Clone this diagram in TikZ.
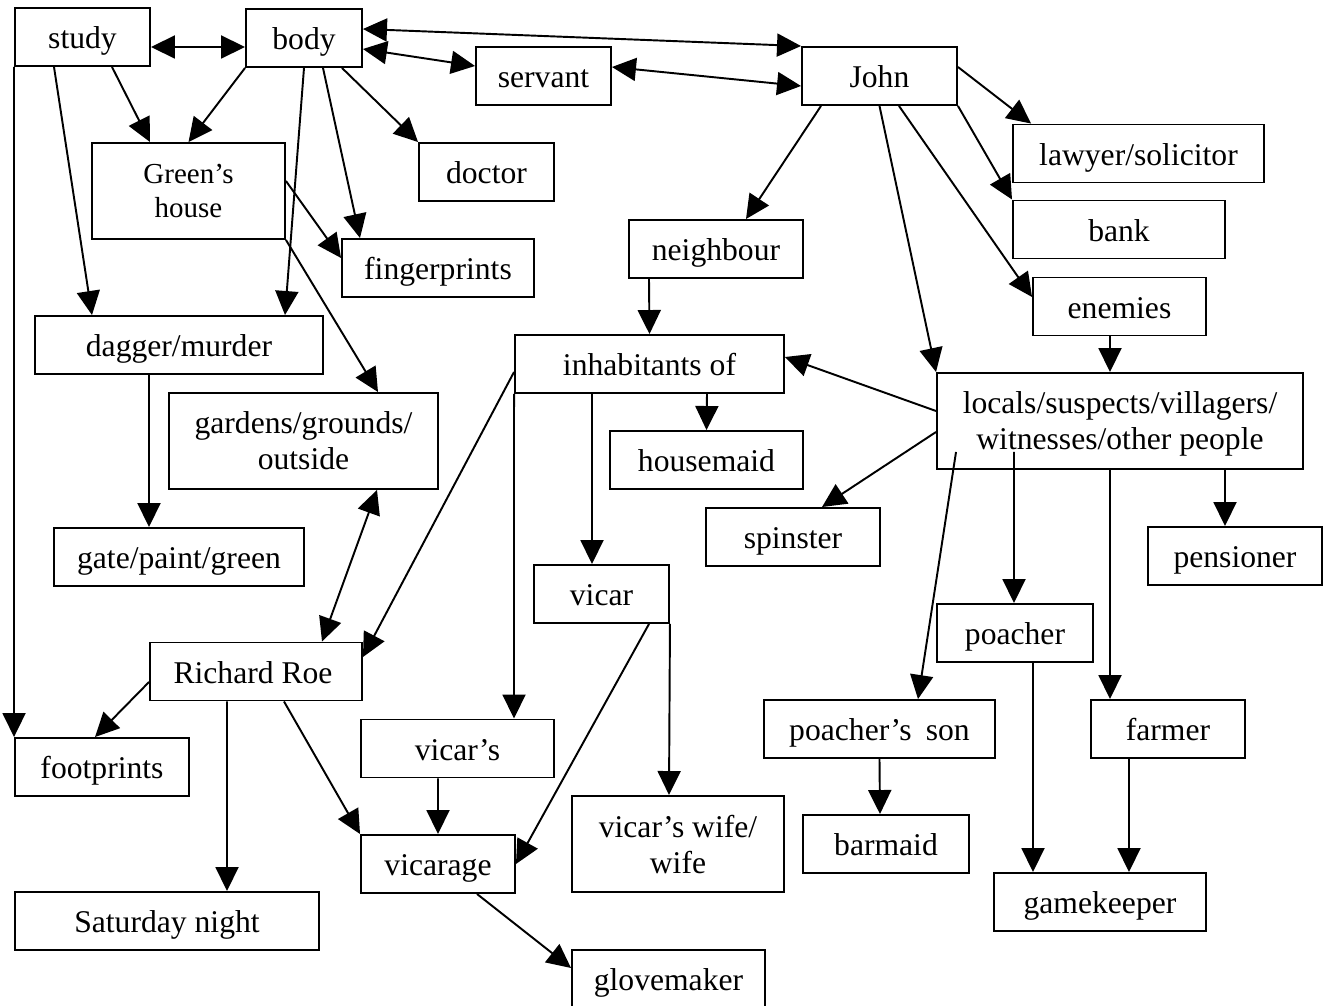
\documentclass[tikz,border=0pt]{standalone}
\usepackage{fontspec}
\setmainfont{Liberation Serif}
\usetikzlibrary{arrows.meta}

\begin{document}
\begin{tikzpicture}[
    x=0.2mm, y=-0.2mm,
    block/.style={rectangle, draw, line width=1.1pt, minimum height=11.6mm, inner sep=0pt, align=center, text height=13.6pt, text depth=0pt, font=\fontsize{18}{20.5}\selectfont},
    tallblock/.style={block, minimum height=19.2mm, text height=, text depth=0pt},
    arr/.style={-{Triangle[length=4.8mm, width=4.6mm]}, line width=1.1pt},
    darr/.style={{Triangle[length=4.8mm, width=4.6mm]}-{Triangle[length=4.8mm, width=4.6mm]}, line width=1.1pt},
]
\useasboundingbox (0,0) rectangle (1323,1006);

% ---- Top row ----
\node[block, minimum width=27mm] (study) at (82.5,37) {study};
\node[block, minimum width=23.2mm] (body) at (304,38) {body};
\node[block, minimum width=27mm] (servant) at (543.5,76) {servant};
\node[block, minimum width=31mm] (john) at (879.5,76) {John};

% ---- Left side ----
\node[tallblock, minimum width=38.6mm, font=\fontsize{16.5}{19}\selectfont] (greens) at (188.5,191) {Green’s\\house};
\node[block, minimum width=27mm] (doctor) at (486.5,172) {doctor};
\node[block, minimum width=38.4mm] (fingerprints) at (438,268) {fingerprints};
\node[block, minimum width=57.6mm] (dagger) at (179,345) {dagger/murder};
\node[tallblock, minimum width=53.8mm] (gardens) at (303.5,441) {gardens/grounds/\\outside};
\node[block, minimum width=50mm] (gate) at (179,557) {gate/paint/green};
\node[block, minimum width=42.4mm] (richard) at (256,671.5) {Richard Roe\hspace{1.2mm}};
\node[block, minimum width=34.8mm] (footprints) at (102,767) {footprints};
\node[block, minimum width=60.8mm] (saturday) at (167,921) {Saturday night};

% ---- Middle ----
\node[block, minimum width=34.8mm] (neighbour) at (716,249) {neighbour};
\node[block, minimum width=53.8mm] (inhabitants) at (649.5,364) {inhabitants of};
\node[block, minimum width=38.6mm] (housemaid) at (706.5,460) {housemaid};
\node[block, minimum width=34.8mm] (spinster) at (793,537) {spinster};
\node[block, minimum width=27mm] (vicar) at (601.5,594) {vicar};
\node[block, minimum width=38.6mm] (vicars) at (457.5,748.5) {vicar’s};
\node[tallblock, minimum width=42.4mm] (wife) at (678,844) {vicar’s wife/\\wife};
\node[block, minimum width=30.8mm] (vicarage) at (438,864) {vicarage};
\node[block, minimum width=38.6mm] (glovemaker) at (668.5,979) {glovemaker};

% ---- Right side ----
\node[block, minimum width=50.2mm] (lawyer) at (1138.5,153.5) {lawyer/solicitor};
\node[block, minimum width=42.4mm] (bank) at (1119,229.5) {bank};
\node[block, minimum width=34.6mm] (enemies) at (1119.5,306.5) {enemies};
\node[tallblock, minimum width=73.2mm] (locals) at (1120,421) {locals/suspects/villagers/\\witnesses/other people};
\node[block, minimum width=34.8mm] (pensioner) at (1235,556) {pensioner};
\node[block, minimum width=31.2mm] (poacher) at (1015,633) {poacher};
\node[block, minimum width=46.2mm] (psson) at (879.5,729) {poacher’s\hspace{0.45em}son};
\node[block, minimum width=30.8mm] (farmer) at (1168,729) {farmer};
\node[block, minimum width=33.2mm] (barmaid) at (886,844) {barmaid};
\node[block, minimum width=42.4mm] (gamekeeper) at (1100,902) {gamekeeper};

% ---- Two-way links ----
\draw[darr] ([yshift=-2mm]study.east) -- ([yshift=-1.8mm]body.west);
\draw[darr] ([yshift=1.8mm]body.east) -- (john.north west);
\draw[darr] ([yshift=-2.2mm]body.east) -- ([yshift=2mm]servant.west);
\draw[darr] ([yshift=1.8mm]servant.east) -- ([yshift=-2mm]john.west);
\draw[darr] ([xshift=14.7mm]gardens.south) -- ([xshift=13.2mm]richard.north);

% ---- From study / body ----
\draw[arr] ([xshift=5.9mm]study.south) -- ([xshift=-7.7mm]greens.north);
\draw[arr] (body.south west) -- (greens.north);
\draw[arr] ([xshift=-5.7mm]study.south) -- ([xshift=-17.4mm]dagger.north);
\draw[arr] (body.south) -- ([xshift=21.2mm]dagger.north);
\draw[arr] ([xshift=3.8mm]body.south) -- ([xshift=-15.6mm]fingerprints.north);
\draw[arr] ([xshift=7.6mm]body.south) -- (doctor.north west);
\draw[arr] (study.south west) -- (footprints.north west);
\draw[arr] ([yshift=2mm]greens.east) -- ([yshift=2mm]fingerprints.west);
\draw[arr] (greens.south east) -- ([xshift=14.9mm]gardens.north);
\draw[arr] ([xshift=-6mm]dagger.south) -- ([xshift=-6mm]gate.north);

% ---- From John ----
\draw[arr] ([xshift=-11.7mm]john.south) -- ([xshift=6mm]neighbour.north);
\draw[arr] ([yshift=1.8mm]john.east) -- ([xshift=3.8mm]lawyer.north west);
\draw[arr] (john.south east) -- (bank.north west);
\draw[arr] ([xshift=3.9mm]john.south) -- ([yshift=1.9mm]enemies.west);
\draw[arr] (john.south) -- (locals.north west);
\draw[arr] ([xshift=-1.9mm]enemies.south) -- ([xshift=-2mm]locals.north);
\draw[arr] ([xshift=-13.4mm]neighbour.south) -- (inhabitants.north);

% ---- From locals ----
\draw[arr] ([yshift=2mm]locals.west) -- ([yshift=1.4mm]inhabitants.east);
\draw[arr] ([yshift=-2.2mm]locals.west) -- ([xshift=5.8mm]spinster.north);
\draw[arr] ([xshift=4mm,yshift=3.6mm]locals.south west) -- ([xshift=7.7mm]psson.north);
\draw[arr] ([xshift=-21.2mm,yshift=3.6mm]locals.south) -- ([xshift=-0.2mm]poacher.north);
\draw[arr] ([xshift=-2mm]locals.south) -- ([xshift=-11.6mm]farmer.north);
\draw[arr] ([xshift=21mm]locals.south) -- ([xshift=-2mm]pensioner.north);
\draw[arr] (psson.south) -- ([xshift=-1.2mm]barmaid.north);
\draw[arr] ([xshift=3.6mm]poacher.south) -- ([xshift=-13.4mm]gamekeeper.north);
\draw[arr] ([xshift=-7.8mm]farmer.south) -- ([xshift=5.8mm]gamekeeper.north);

% ---- From inhabitants / vicar ----
\draw[arr] ([yshift=-1.6mm]inhabitants.west) -- ([yshift=2.9mm]richard.east);
\draw[arr] ([xshift=11.5mm]inhabitants.south) -- (housemaid.north);
\draw[arr] ([xshift=-11.5mm]inhabitants.south) -- ([xshift=-1.9mm]vicar.north);
\draw[arr] (inhabitants.south west) -- ([xshift=11.3mm]vicars.north);
\draw[arr] (vicar.south east) -- ([xshift=-1.8mm]wife.north);
\draw[arr] ([xshift=9.5mm]vicar.south) -- (vicarage.east);
\draw[arr] ([xshift=-3.9mm]vicars.south) -- (vicarage.north);

% ---- From Richard Roe ----
\draw[arr] ([xshift=5.6mm]richard.south) -- (vicarage.north west);
\draw[arr] ([yshift=-2.1mm]richard.west) -- ([xshift=-1.4mm]footprints.north);
\draw[arr] ([xshift=-5.8mm]richard.south) -- ([xshift=12mm]saturday.north);
\draw[arr] ([xshift=7.8mm]vicarage.south) -- ([yshift=2.2mm]glovemaker.west);

\end{tikzpicture}
\end{document}
